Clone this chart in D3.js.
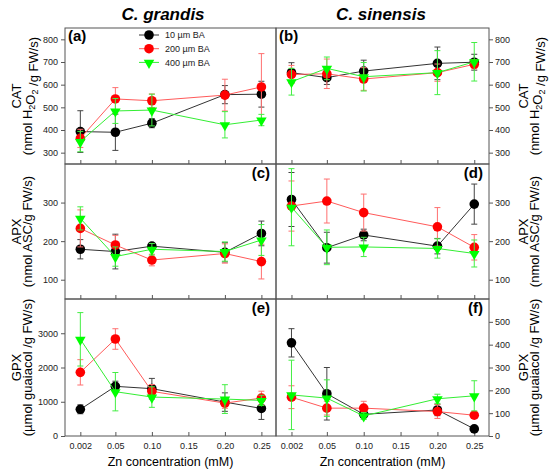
<!DOCTYPE html>
<html>
  <head>
    <meta charset="utf-8">
    <script src="https://d3js.org/d3.v7.min.js"></script>
    <title>Antioxidant enzymes vs Zn</title>
    <style>
      body { margin: 0px; background: #fff; }
      text { font-family: 'Liberation Sans', Arial, sans-serif; }
      .tick text { fill: #222; font-size: 9px; }
      .tick line { stroke: #555; }
      .domain { display: none; }
    </style>
  </head>
  <body>
    <svg width="550" height="476"></svg>
    <script>
      // x values (Zn, mM) and tick labels
      const zn = [0.002, 0.05, 0.10, 0.20, 0.25];
      const xTicks = [0.002, 0.05, 0.10, 0.15, 0.20, 0.25];
      const xTickLabels = ['0.002', '0.05', '0.10', '0.15', '0.20', '0.25'];
      const seriesNames = ['10 \u00b5m BA', '200 \u00b5m BA', '400 \u00b5m BA'];

      // means per series: [10, 200, 400 uM BA]
      const catGrandis = [[393, 390, 430, 556, 558], [363, 537, 529, 554, 590], [349, 484, 488, 423, 444]];
      const catGrandisErr = [[92, 80, 20, 40, 57], [40, 50, 30, 70, 147], [45, 55, 70, 58, 25]];
      const catSinensis = [[653, 631, 660, 694, 699], [645, 648, 625, 653, 690], [613, 672, 635, 653, 701]];
      const catSinensisErr = [[44, 30, 48, 72, 35], [40, 65, 50, 38, 20], [59, 50, 63, 97, 85]];
      const apxGrandis = [[179, 173, 187, 171, 220], [233, 190, 151, 168, 147], [259, 160, 179, 173, 203]];
      const apxGrandisErr = [[25, 45, 8, 25, 32], [48, 25, 15, 25, 45], [30, 25, 15, 25, 40]];
      const apxSinensis = [[308, 183, 216, 187, 296], [291, 304, 274, 237, 184], [288, 184, 185, 181, 168]];
      const apxSinensisErr = [[70, 40, 15, 20, 52], [65, 57, 48, 50, 33], [100, 45, 25, 25, 35]];
      const gpxGrandis = [[779, 1450, 1382, 990, 804], [1859, 2832, 1304, 960, 1108], [2823, 1294, 1137, 1078, 1039]];
      const gpxGrandisErr = [[130, 150, 300, 270, 320], [370, 300, 200, 150, 200], [780, 560, 300, 420, 150]];
      const gpxSinensis = [[408, 185, 95, 114, 31], [170, 122, 122, 107, 91], [180, 166, 88, 163, 176]];
      const gpxSinensisErr = [[62, 115, 15, 25, 5], [50, 30, 30, 30, 10], [152, 80, 15, 20, 66]];

      // y ticks
      const catTicks = [300, 400, 500, 600, 700, 800];
      const apxTicks = [100, 200, 300];
      const gpxGrandisTicks = [0, 1000, 2000, 3000];
      const gpxSinensisTicks = [0, 100, 200, 300, 400, 500];

      const markerFill = ['#000000', '#ff0000', '#00ff00'];
      const lineColor = ['#333333', '#ff5a5a', '#33ee33'];
      const errColor = ['#444444', '#ff7070', '#44ee44'];

      const svg = d3.select('svg');
      const cols = [[65, 276], [276, 489]];
      const rows = [[28, 164], [164, 299], [299, 436]];

      const panels = [
        { col: 0, row: 0, mean: catGrandis, err: catGrandisErr, dom: [250, 850], ticks: catTicks, tag: '(a)' },
        { col: 1, row: 0, mean: catSinensis, err: catSinensisErr, dom: [250, 850], ticks: catTicks, tag: '(b)' },
        { col: 0, row: 1, mean: apxGrandis, err: apxGrandisErr, dom: [50, 400], ticks: apxTicks, tag: '(c)' },
        { col: 1, row: 1, mean: apxSinensis, err: apxSinensisErr, dom: [50, 400], ticks: apxTicks, tag: '(d)' },
        { col: 0, row: 2, mean: gpxGrandis, err: gpxGrandisErr, dom: [0, 4000], ticks: gpxGrandisTicks, tag: '(e)' },
        { col: 1, row: 2, mean: gpxSinensis, err: gpxSinensisErr, dom: [0, 600], ticks: gpxSinensisTicks, tag: '(f)' }
      ];

      const yLabels = [
        [['CAT'], ['(nmol H', ['2'], 'O', ['2'], ' /g FW/s)']],
        [['APX'], ['(nmol ASC/g FW/s)']],
        [['GPX'], ['(\u00b5mol guaiacol /g FW/s)']]
      ];

      const tri = d3.symbol().type(d3.symbolTriangle).size(48);

      panels.forEach(p => {
        const [x0, x1] = cols[p.col];
        const [y0, y1] = rows[p.row];
        const x = d3.scaleLinear().domain([-0.019, 0.27]).range([x0, x1]);
        const y = d3.scaleLinear().domain(p.dom).range([y1, y0]);
        const g = svg.append('g');

        const xAxis = d3.axisBottom(x).tickValues(xTicks).tickSize(-4).tickSizeOuter(0).tickPadding(7)
          .tickFormat((d, i) => p.row === 2 ? xTickLabels[i] : '');
        g.append('g').attr('transform', `translate(0,${y1})`).call(xAxis);

        const yAxis = (p.col === 0 ? d3.axisLeft(y) : d3.axisRight(y))
          .tickValues(p.ticks).tickFormat(d3.format('d'))
          .tickSize(4).tickSizeOuter(0).tickPadding(p.col === 0 ? 3 : 2);
        g.append('g').attr('transform', `translate(${p.col === 0 ? x0 : x1},0)`).call(yAxis);

        g.append('rect')
          .attr('x', x0).attr('y', y0)
          .attr('width', x1 - x0).attr('height', y1 - y0)
          .attr('fill', 'none').attr('stroke', '#555').attr('stroke-width', 1);

        p.mean.forEach((vals, s) => {
          const sg = g.append('g');
          const pts = vals.map((v, i) => ({ x: zn[i], v: v, e: p.err[s][i] }));
          // error bars
          pts.forEach(d => {
            const cx = x(d.x);
            sg.append('line').attr('x1', cx).attr('x2', cx)
              .attr('y1', y(d.v - d.e)).attr('y2', y(d.v + d.e))
              .attr('stroke', errColor[s]).attr('stroke-width', 1);
            [d.v - d.e, d.v + d.e].forEach(c => {
              sg.append('line').attr('x1', cx - 3).attr('x2', cx + 3)
                .attr('y1', y(c)).attr('y2', y(c))
                .attr('stroke', errColor[s]).attr('stroke-width', 1);
            });
          });
          sg.append('path')
            .attr('d', d3.line().x(d => x(d.x)).y(d => y(d.v))(pts))
            .attr('fill', 'none').attr('stroke', lineColor[s]).attr('stroke-width', 1);
          pts.forEach(d => {
            if (s < 2) {
              sg.append('circle').attr('cx', x(d.x)).attr('cy', y(d.v)).attr('r', 4.8)
                .attr('fill', markerFill[s]);
            } else {
              sg.append('path').attr('d', tri)
                .attr('transform', `translate(${x(d.x)},${y(d.v) + 0.5}) rotate(180)`)
                .attr('fill', markerFill[s]);
            }
          });
        });

        // panel tag
        const tagPos = p.row === 0
          ? { x: x0 + 3, y: y0 + 13, a: 'start' }
          : { x: x1 - 6, y: y0 + 14, a: 'end' };
        svg.append('text')
          .attr('x', tagPos.x).attr('y', tagPos.y)
          .attr('text-anchor', tagPos.a)
          .style('font-size', '15px').style('font-weight', 'bold')
          .text(p.tag);

        // y label (two lines, rotated)
        const cy = (y0 + y1) / 2;
        const bx = p.col === 0 ? [21, 32] : [528, 539];
        yLabels[p.row].forEach((parts, li) => {
          const t = svg.append('text')
            .attr('transform', `translate(${bx[li]},${cy}) rotate(-90)`)
            .attr('text-anchor', 'middle')
            .style('font-size', '13px');
          parts.forEach(part => {
            if (Array.isArray(part)) {
              t.append('tspan').attr('dy', 3).style('font-size', '9px').text(part[0]);
              t.append('tspan').attr('dy', -3).text('');
            } else {
              t.append('tspan').text(part);
            }
          });
        });

        // x title
        if (p.row === 2) {
          svg.append('text')
            .attr('x', (x0 + x1) / 2).attr('y', 466)
            .attr('text-anchor', 'middle')
            .style('font-size', '12.5px')
            .text('Zn concentration (mM)');
        }
      });

      // column titles
      svg.append('text').attr('x', 163).attr('y', 20).attr('text-anchor', 'middle')
        .style('font-size', '17px').style('font-weight', 'bold').style('font-style', 'italic')
        .text('C. grandis');
      svg.append('text').attr('x', 381).attr('y', 20).attr('text-anchor', 'middle')
        .style('font-size', '17px').style('font-weight', 'bold').style('font-style', 'italic')
        .text('C. sinensis');

      // legend in panel (a)
      const legendG = svg.append('g');
      seriesNames.forEach((name, s) => {
        const ly = 35 + s * 13.7;
        legendG.append('line').attr('x1', 139).attr('x2', 159).attr('y1', ly).attr('y2', ly)
          .attr('stroke', lineColor[s]).attr('stroke-width', 1);
        if (s < 2) {
          legendG.append('circle').attr('cx', 149).attr('cy', ly).attr('r', 4.8).attr('fill', markerFill[s]);
        } else {
          legendG.append('path').attr('d', tri)
            .attr('transform', `translate(149,${ly + 0.5}) rotate(180)`)
            .attr('fill', markerFill[s]);
        }
        legendG.append('text').attr('x', 165).attr('y', ly + 3.2)
          .style('font-size', '9px').style('fill', '#222')
          .text(name);
      });
    </script>
  </body>
</html>
